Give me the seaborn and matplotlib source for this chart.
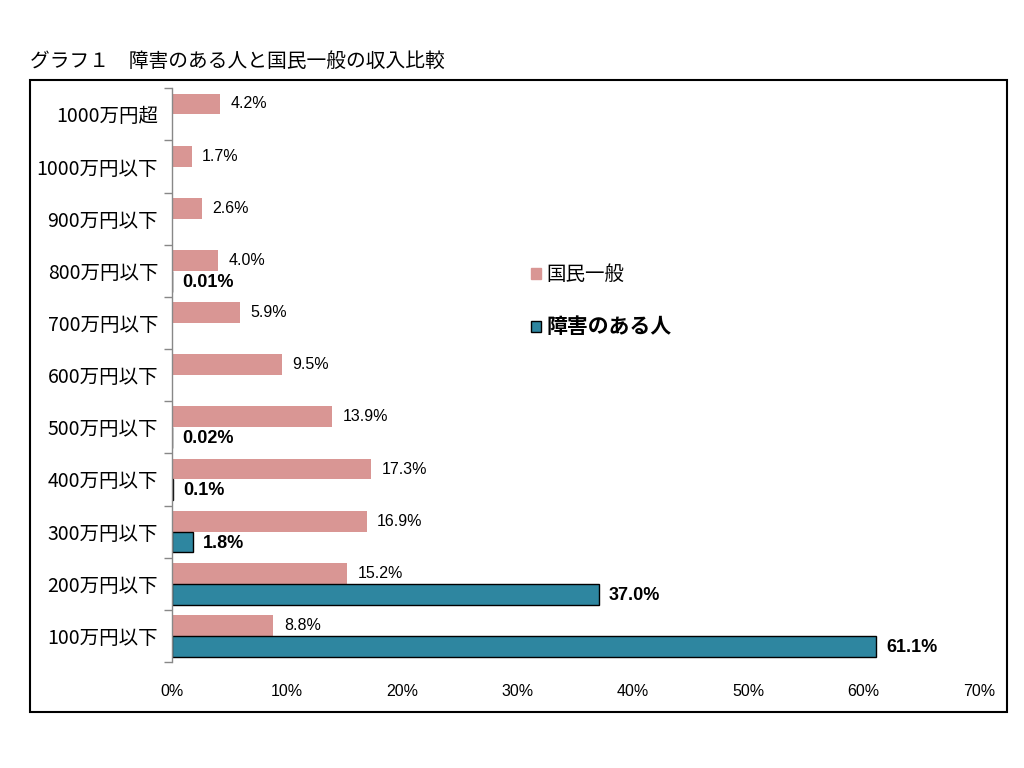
import numpy as np
import pandas as pd
import matplotlib.pyplot as plt
from matplotlib.patches import Patch, Rectangle
from matplotlib.ticker import FixedLocator, PercentFormatter
import seaborn as sns

sns.set_theme(style="white")
plt.rcParams["font.family"] = ["Noto Sans CJK JP", "DejaVu Sans"]
plt.rcParams["text.color"] = "black"
plt.rcParams["xtick.color"] = "black"
plt.rcParams["ytick.color"] = "black"

NUM_FONT = ["Liberation Sans Narrow", "Liberation Sans", "DejaVu Sans"]

# 収入階層（上から）
categories = ["1000万円超", "1000万円以下", "900万円以下", "800万円以下", "700万円以下",
              "600万円以下", "500万円以下", "400万円以下", "300万円以下", "200万円以下",
              "100万円以下"]
general = [4.2, 1.7, 2.6, 4.0, 5.9, 9.5, 13.9, 17.3, 16.9, 15.2, 8.8]
disabled = [None, None, None, 0.01, None, None, 0.02, 0.1, 1.8, 37.0, 61.1]
groups = ["国民一般", "障害のある人"]
colors = {"国民一般": "#D99694", "障害のある人": "#2E86A0"}
xticks = [0, 10, 20, 30, 40, 50, 60, 70]

df = pd.DataFrame({
    "cat": categories * 2,
    "group": [groups[0]] * len(categories) + [groups[1]] * len(categories),
    "value": general + disabled,
}).dropna()

fig = plt.figure(figsize=(10.24, 7.68), dpi=100)
ax = fig.add_axes([0.168, 0.138, 0.788, 0.747])

sns.barplot(data=df, x="value", y="cat", hue="group", hue_order=groups,
            order=categories, palette=colors, saturation=1, width=0.8,
            dodge=True, errorbar=None, orient="h", legend=False,
            linewidth=0, ax=ax)

# 障害のある人の棒は黒枠
for p in ax.containers[1]:
    p.set_edgecolor("black")
    p.set_linewidth(1.0)

# 値ラベル
for i, v in enumerate(general):
    ax.text(v + 0.9, i - 0.2, f"{v:.1f}%", va="center", ha="left",
            fontsize=11.5, family=NUM_FONT, color="black")
for i, v in enumerate(disabled):
    if v is None:
        continue
    txt = f"{v:.2f}%" if v < 0.1 else f"{v:.1f}%"
    ax.text(v + 0.9, i + 0.22, txt, va="center", ha="left",
            fontsize=13, fontweight="bold", family=NUM_FONT, color="black")

ax.set_xlim(0, 70)
ax.set_ylim(len(categories) - 0.5, -0.5)
ax.xaxis.set_major_locator(FixedLocator(xticks))
ax.xaxis.set_major_formatter(PercentFormatter(decimals=0))
for lab in ax.get_xticklabels():
    lab.set_family(NUM_FONT)
    lab.set_fontsize(11.5)
ax.tick_params(axis="x", length=0, pad=16)

ax.set_yticks(range(len(categories)))
ax.set_yticklabels(categories, fontsize=14)
ax.set_yticks(np.arange(-0.5, len(categories), 1), minor=True)
ax.tick_params(axis="y", which="major", length=0, pad=10)
ax.tick_params(axis="y", which="minor", length=6, width=1, color="#888888",
               direction="out", left=True)
ax.set_xlabel("")
ax.set_ylabel("")
for s in ["top", "right", "bottom"]:
    ax.spines[s].set_visible(False)
ax.spines["left"].set_color("#888888")
ax.spines["left"].set_linewidth(1)

handles = [Patch(facecolor=colors[groups[0]], edgecolor=colors[groups[0]]),
           Patch(facecolor=colors[groups[1]], edgecolor="black", linewidth=1)]
leg = ax.legend(handles, groups, loc="center left", bbox_to_anchor=(0.445, 0.63),
                frameon=False, borderpad=0, borderaxespad=0,
                handlelength=0.5, handleheight=0.5,
                handletextpad=0.3, labelspacing=1.6, fontsize=14)
leg.get_texts()[1].set_fontweight("bold")
leg.get_texts()[1].set_fontsize(15)

# 外枠とタイトル
fig.patches.append(Rectangle((0.0293, 0.073), 0.954, 0.823, transform=fig.transFigure,
                             fill=False, edgecolor="black", linewidth=1.5))
fig.text(0.0293, 0.92, "グラフ１　障害のある人と国民一般の収入比較",
         fontsize=14.2, ha="left", va="center")

fig.savefig("out.png", dpi=100)
